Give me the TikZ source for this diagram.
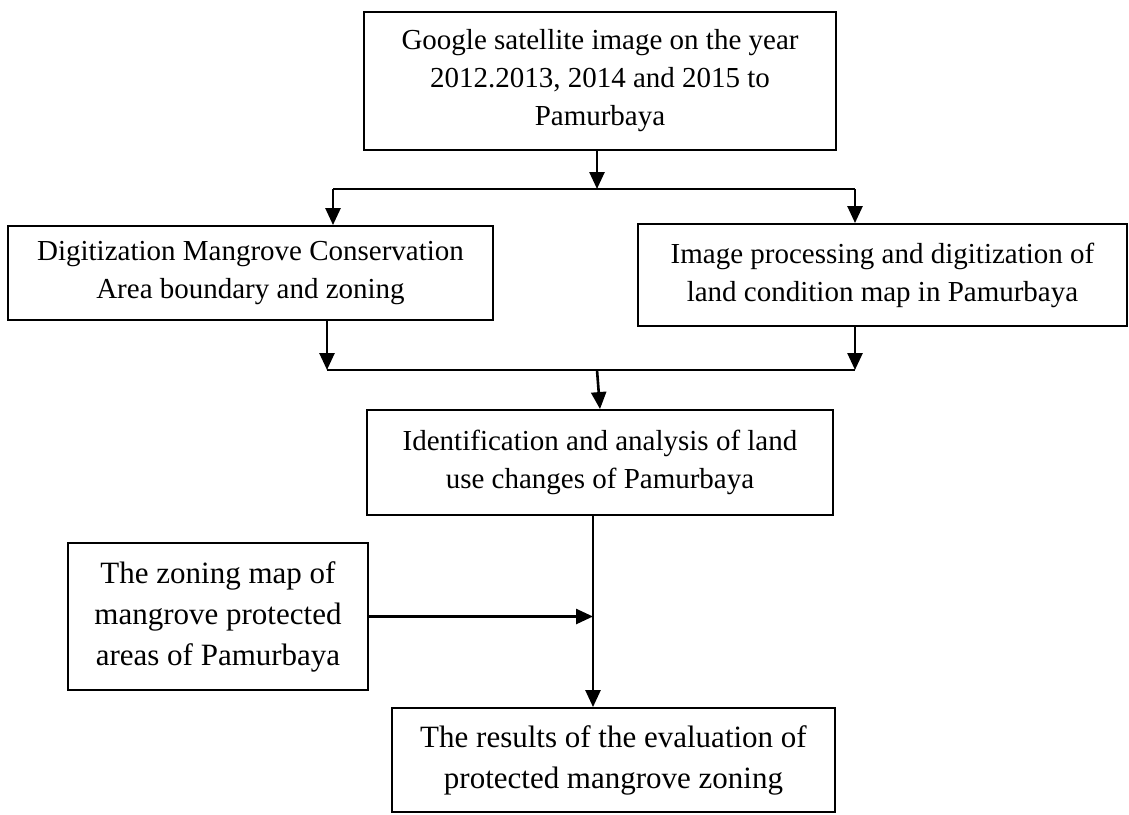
\documentclass[tikz,border=0pt]{standalone}
\usepackage{fontspec}
\setmainfont{Liberation Serif}
\usetikzlibrary{arrows.meta}

\begin{document}
\begin{tikzpicture}[
		x=1pt, y=-1pt,
		box/.style={draw=black, line width=1.9pt, align=center, inner sep=0pt,
		font=\fontsize{29}{38}\selectfont},
		bigbox/.style={box, font=\fontsize{31}{41}\selectfont},
		flow/.style={line width=2.6pt, -{Triangle[length=17pt,width=15pt]}},
		plain/.style={line width=2.6pt}
		]
		\useasboundingbox (0,0) rectangle (1129,814);
		\node[box, minimum width=472pt, minimum height=138pt] (sat) at (600,81)
			{Google satellite image on the year\\ 2012.2013, 2014 and 2015 to\\ Pamurbaya};
		\node[box, minimum width=485pt, minimum height=94pt] (dig) at (250.5,273)
			{Digitization Mangrove Conservation\\ Area boundary and zoning};
		\node[box, minimum width=489pt, minimum height=102pt] (img) at (882.5,275)
			{Image processing and digitization of\\ land condition map in Pamurbaya};
		\node[box, minimum width=466pt, minimum height=105pt] (ident) at (600,462.5)
			{Identification and analysis of land\\ use changes of Pamurbaya};
		\node[bigbox, minimum width=300pt, minimum height=147pt] (zone) at (218,616.5)
			{The zoning map of\\ mangrove protected\\ areas of Pamurbaya};
		\node[bigbox, minimum width=443pt, minimum height=104pt] (res) at (613.5,760)
			{The results of the evaluation of\\ protected mangrove zoning};
		% split below the satellite image
		\coordinate (split) at (597,189);
		\coordinate (splitL) at (333,189);
		\coordinate (splitR) at (855,189);
		\draw[flow] (sat.south -| split) -- (split);
		\draw[plain] (splitL) -- (splitR);
		\draw[flow] (splitL) -- (splitL |- dig.north);
		\draw[flow] (splitR) -- (splitR |- img.north);
		% join into the analysis
		\coordinate (join) at (597,370);
		\coordinate (joinL) at (327,370);
		\coordinate (joinR) at (855,370);
		\draw[flow] (joinL |- dig.south) -- (joinL);
		\draw[flow] (joinR |- img.south) -- (joinR);
		\draw[plain] (joinL) -- (joinR);
		\draw[flow] (join) -- (ident.north);
		% zoning map into the result
		\coordinate (merge) at (593,616.5);
		\draw[flow] (zone.east) -- (merge);
		\draw[flow] (merge |- ident.south) -- (merge |- res.north);
	\end{tikzpicture}
\end{document}
